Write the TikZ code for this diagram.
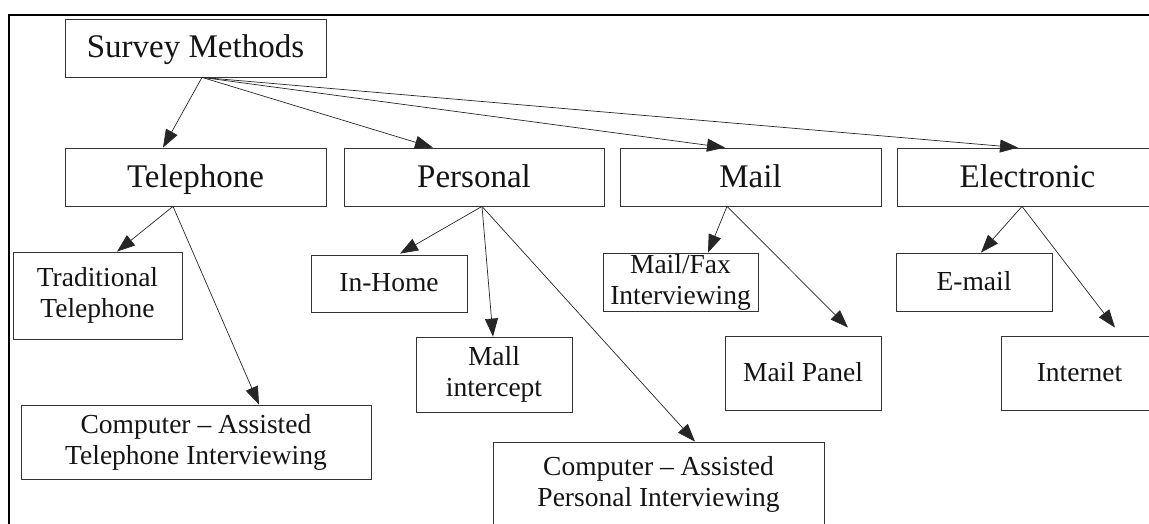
\documentclass[tikz,border=0pt]{standalone}
\usepackage{fontspec}
\setmainfont{Liberation Serif}
\usetikzlibrary{arrows.meta}
\begin{document}
\begin{tikzpicture}[x=1pt,y=-1pt,
  box/.style={draw=black!80, line width=0.8pt, inner sep=0pt, text=black!92},
  big/.style={box, font=\fontsize{33}{38}\selectfont, text height=27pt, text depth=7pt,
              minimum height=58pt},
  small/.style={box, align=center, font=\fontsize{27.5}{31}\selectfont},
  one/.style={small, text height=19pt, text depth=3pt},
  link/.style={draw=black!85, line width=0.7pt, -{Triangle[length=18pt,width=13pt]}}]
\useasboundingbox (0,0) rectangle (1149,524);
\clip (0,0) rectangle (1149,524);

% frame
\draw[line width=1.6pt] (9,545) -- (9,15) -- (1170,15);

% top level
\node[big, minimum width=261pt] (sm) at (195.5,48) {Survey Methods};

% methods
\node[big, minimum width=261pt] (tel)  at (195.5,177)  {Telephone};
\node[big, minimum width=260pt] (per)  at (474,177)    {Personal};
\node[big, minimum width=261pt] (mail) at (750.5,177)  {Mail};
\node[big, minimum width=261pt] (elec) at (1027.5,177) {Electronic};

% telephone
\node[small, minimum width=169pt, minimum height=87pt] (trad) at (97.5,295.5) {Traditional\\Telephone};
\node[small, minimum width=350pt, minimum height=74pt] (cati) at (196,442) {Computer – Assisted\\Telephone Interviewing};

% personal
\node[one, minimum width=156pt, minimum height=57pt] (inhome) at (389,283.5) {In-Home};
\node[small, minimum width=156pt, minimum height=75pt] (mall) at (494,374.5) {Mall\\intercept};
\node[small, minimum width=331pt, minimum height=85pt] (capi) at (658.5,484.5) {Computer – Assisted\\Personal Interviewing};

% mail
\node[small, minimum width=155pt, minimum height=58pt] (mailfax) at (680.5,282) {Mail/Fax\\Interviewing};
\node[one, minimum width=156pt, minimum height=74pt] (mpanel) at (803,373) {Mail Panel};

% electronic
\node[one, minimum width=156pt, minimum height=58pt] (email) at (974,282) {E-mail};
\node[one, minimum width=157pt, minimum height=74pt] (inet) at (1079.5,373) {Internet};

% connectors
\draw[link] ([xshift=6.5pt]sm.south) -- ([xshift=-32.5pt]tel.north);
\draw[link] ([xshift=6.5pt]sm.south) -- ([xshift=-41pt]per.north);
\draw[link] ([xshift=6.5pt]sm.south) -- ([xshift=-25.5pt]mail.north);
\draw[link] ([xshift=6.5pt]sm.south) -- ([xshift=-9.5pt]elec.north);

\draw[link] ([xshift=-22.5pt]tel.south) -- ([xshift=19.5pt]trad.north);
\draw[link] ([xshift=-22.5pt]tel.south) -- ([xshift=63pt]cati.north);

\draw[link] ([xshift=8pt]per.south) -- ([xshift=11pt,yshift=1pt]inhome.north);
\draw[link] ([xshift=8pt]per.south) -- ([xshift=-1pt]mall.north);
\draw[link] ([xshift=8pt]per.south) -- ([xshift=36.5pt]capi.north);

\draw[link] ([xshift=-23.5pt]mail.south) -- ([xshift=27.5pt]mailfax.north);
\draw[link] ([xshift=-23.5pt]mail.south) -- ([xshift=45pt,yshift=8pt]mpanel.north);

\draw[link] ([xshift=-5.5pt]elec.south) -- ([xshift=7pt]email.north);
\draw[link] ([xshift=-5.5pt]elec.south) -- ([xshift=35.5pt,yshift=8pt]inet.north);
\end{tikzpicture}
\end{document}
